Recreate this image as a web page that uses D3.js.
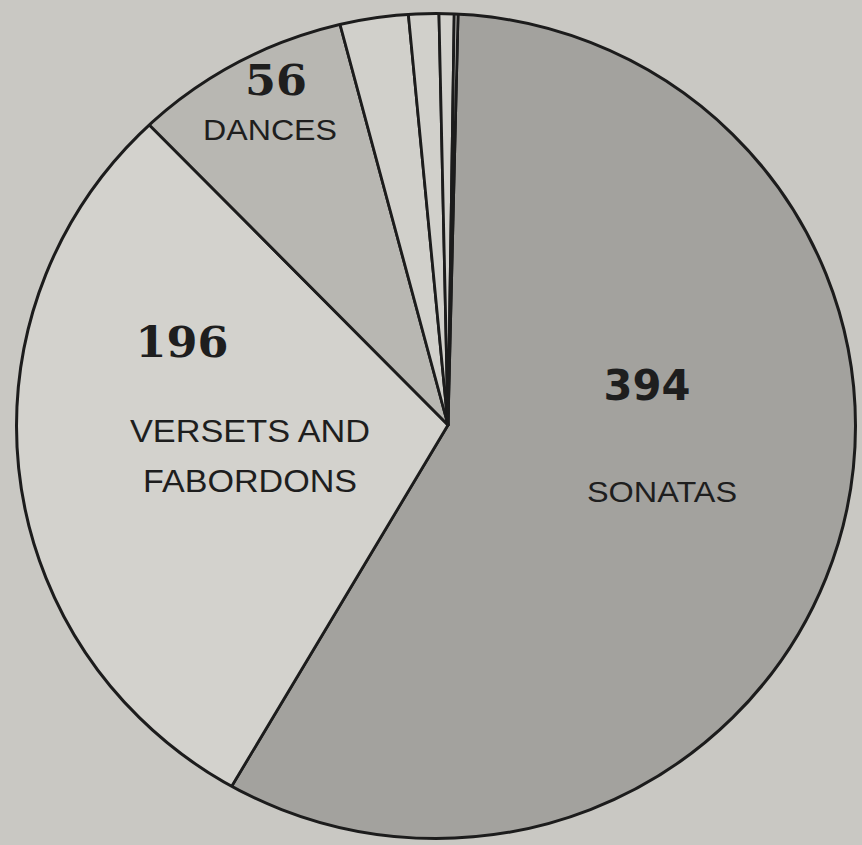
<!DOCTYPE html>
<html>
<head>
<meta charset="utf-8">
<script src="https://cdn.jsdelivr.net/npm/d3@7"></script>
<style>
  html, body { margin: 0; padding: 0; background: #c9c8c3; }
  svg { display: block; }
</style>
</head>
<body>
<svg id="chart" width="862" height="845"></svg>
<script>
// Data
const categories = ["SONATAS", "VERSETS AND FABORDONS", "DANCES", "Other A", "Other B", "Other C", "Other D"];
const values     = [394, 196, 56, 18, 8, 4, 1];
const fills      = ["#a3a29e", "#d3d2cd", "#b8b7b2", "#d1d0cb", "#d1d0cb", "#d1d0cb", "#d1d0cb"];
const numberLabels = ["394", "196", "56"];

const svg = d3.select("#chart");
const W = 862, H = 845;
svg.append("rect").attr("width", W).attr("height", H).attr("fill", "#c9c8c3");

// outline ellipse (photographed page is slightly distorted) and wedge vertex
const ex = 436, ey = 426, rx = 419.5, ry = 412.5;
const vx = 448, vy = 425;
const rot = 1.4 * Math.PI / 180;

const defs = svg.append("defs");
defs.append("clipPath").attr("id", "pieClip")
  .append("ellipse").attr("cx", ex).attr("cy", ey).attr("rx", rx).attr("ry", ry);

const pie = d3.pie().sort(null).value(d => d.v)
  .startAngle(rot).endAngle(rot + 2 * Math.PI);
const arc = d3.arc().innerRadius(0).outerRadius(520);

const data = categories.map((c, i) => ({ c, v: values[i], f: fills[i] }));

const g = svg.append("g").attr("clip-path", "url(#pieClip)")
  .append("g").attr("transform", `translate(${vx},${vy})`);
g.selectAll("path").data(pie(data)).join("path")
  .attr("d", arc)
  .attr("fill", d => d.data.f)
  .attr("stroke", "#1c1c1c")
  .attr("stroke-width", 2.8)
  .attr("stroke-linejoin", "round");

svg.append("ellipse")
  .attr("cx", ex).attr("cy", ey).attr("rx", rx).attr("ry", ry)
  .attr("fill", "none").attr("stroke", "#1c1c1c").attr("stroke-width", 3);

// Labels
const labels = [
  { t: numberLabels[0], x: 647, y: 400, fs: 42, w: 87, font: "DejaVu Sans", bold: true },
  { t: "SONATAS", x: 662, y: 502, fs: 30, w: 150, font: "Liberation Sans", bold: false },
  { t: numberLabels[1], x: 182, y: 357, fs: 42, w: 93, font: "DejaVu Serif", bold: true },
  { t: "VERSETS AND", x: 250, y: 442, fs: 32, w: 240, font: "Liberation Sans", bold: false },
  { t: "FABORDONS", x: 250, y: 492, fs: 32, w: 214, font: "Liberation Sans", bold: false },
  { t: numberLabels[2], x: 276, y: 95, fs: 42, w: 62, font: "DejaVu Serif", bold: true },
  { t: "DANCES", x: 270, y: 140, fs: 29, w: 134, font: "Liberation Sans", bold: false }
];
svg.selectAll("text.lbl").data(labels).join("text")
  .attr("class", "lbl")
  .attr("x", d => d.x).attr("y", d => d.y)
  .attr("text-anchor", "middle")
  .attr("font-family", d => d.font)
  .attr("font-weight", d => d.bold ? "bold" : "normal")
  .attr("font-size", d => d.fs)
  .attr("textLength", d => d.w)
  .attr("lengthAdjust", "spacingAndGlyphs")
  .attr("fill", "#1e1e1e")
  .text(d => d.t);
</script>
</body>
</html>
